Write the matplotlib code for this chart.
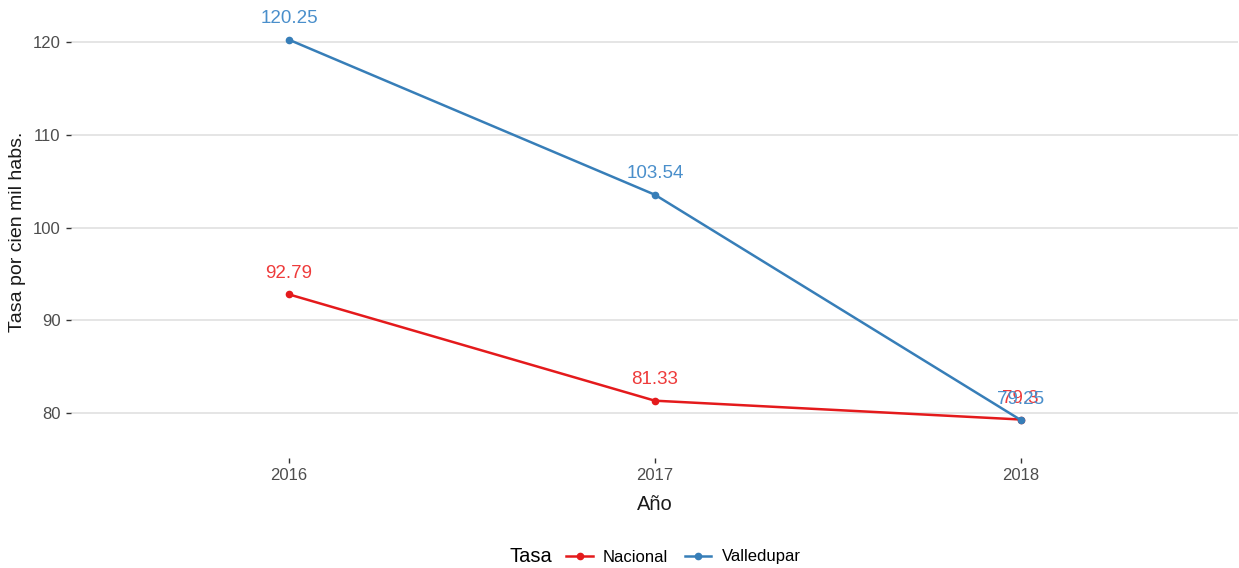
import matplotlib.pyplot as plt
from matplotlib.lines import Line2D
from matplotlib.offsetbox import HPacker

plt.rcParams['font.family'] = ['Liberation Sans', 'DejaVu Sans']

years = [2016, 2017, 2018]
nacional = [92.79, 81.33, 79.3]
valledupar = [120.25, 103.54, 79.25]
series_names = ['Nacional', 'Valledupar']
line_colors = ['#E41A1C', '#377EB8']
label_colors = ['#EE3B3B', '#4A8FCB']

fig = plt.figure(figsize=(12.39, 5.68), dpi=100)
ax = fig.add_axes([71 / 1239, 1 - 458 / 568, 1167 / 1239, 453 / 568])

for vals, lc, tc in zip([nacional, valledupar], line_colors, label_colors):
    ax.plot(years, vals, color=lc, lw=1.8, marker='o', ms=4.5, zorder=3)
    for x, y in zip(years, vals):
        ax.annotate(f'{y:g}', (x, y), xytext=(0, 15), textcoords='offset points',
                    ha='center', va='center', color=tc, fontsize=13.5)

ax.set_xlim(2015.404, 2018.594)
ax.set_ylim(75.15, 124.0)
ax.set_xticks(years)
ax.set_xticklabels([str(y) for y in years])
ax.set_yticks([80, 90, 100, 110, 120])
ax.grid(axis='y', color='#DEDEDE', lw=1.1)
ax.set_axisbelow(True)
for s in ax.spines.values():
    s.set_visible(False)
ax.tick_params(color='#333333', labelcolor='#4D4D4D', labelsize=12, length=3.5, width=1, pad=4)

ax.set_xlabel('Año', fontsize=14.5, color='#1A1A1A', labelpad=8)
ax.set_ylabel('Tasa por cien mil habs.', fontsize=14, color='#1A1A1A', labelpad=5)

handles = [Line2D([], [], color=c, lw=1.8, marker='o', ms=4.5) for c in line_colors]
leg = fig.legend(handles, series_names, title='Tasa', loc='center', ncol=2,
                 bbox_to_anchor=(655 / 1239, 1 - 557 / 568), frameon=False,
                 fontsize=12, title_fontsize=14.5, handlelength=1.6, columnspacing=1.0,
                 handletextpad=0.6)
# title on the left of the entries, like ggplot's bottom legend
title_box = leg._legend_title_box
leg._legend_box._children = [HPacker(pad=0, sep=10, align='center',
                                     children=[title_box] + leg._legend_box._children[1:])]

fig.savefig('out.png', dpi=100)
